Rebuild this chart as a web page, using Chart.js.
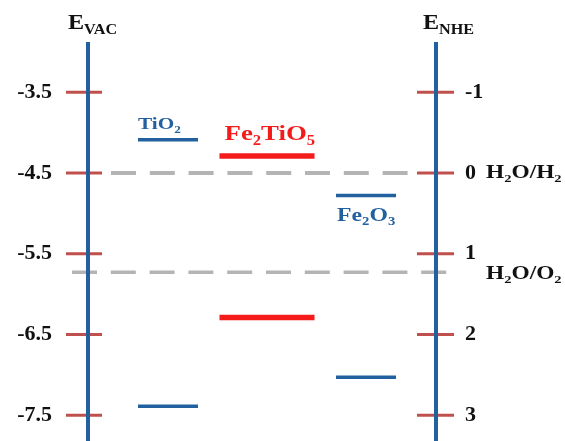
<!DOCTYPE html>
<html>
<head>
<meta charset="utf-8">
<script src="https://cdn.jsdelivr.net/npm/chart.js@4.4.0/dist/chart.umd.min.js"></script>
<style>
html,body{margin:0;padding:0;background:#fff;}
canvas{display:block;}
</style>
</head>
<body>
<canvas id="c" width="565" height="441"></canvas>
<script>
// ---------- data ----------
const materials = ['TiO2', 'Fe2TiO5', 'Fe2O3'];
const conductionBand = [-4.09, -4.29, -4.78];   // eV vs vacuum
const valenceBand = [-7.39, -6.29, -7.03];      // eV vs vacuum
const vacTicks = [-3.5, -4.5, -5.5, -6.5, -7.5];
const vacTickLabels = ['-3.5', '-4.5', '-5.5', '-6.5', '-7.5'];
const nheTicks = [-1, 0, 1, 2, 3];
const nheTickLabels = ['-1', '0', '1', '2', '3'];
const redoxNames = ['H2O/H2', 'H2O/O2'];
const redoxNHE = [0, 1.23];
const NHE_ZERO_VAC = -4.5;   // E_vac = -4.5 - E_NHE
const vacRange = [-7.819, -2.878];

// ---------- style ----------
const BLUE = '#2360a0';
const RED = '#f41b1b';
const TICK_RED = '#c0504d';
const GREY = '#b4b4b4';
const FONT = '"Liberation Serif", "Times New Roman", serif';
const materialColors = [BLUE, RED, BLUE];
const levelWidths = [3.5, 5.5, 3.5];
const halfWidths = [0.303, 0.48, 0.303];
const labelStyle = [
  {size: 17, sx: 1.25, dx: 0, dy: -11},
  {size: 22, sx: 1.22, dx: 5, dy: -16},
  {size: 19, sx: 1.25, dx: 1, dy: 25}
];

const toVac = n => NHE_ZERO_VAC - n;

const datasets = [];
materials.forEach((m, i) => {
  [conductionBand[i], valenceBand[i]].forEach(v => {
    datasets.push({
      label: m,
      data: [{x: i + 1 - halfWidths[i], y: v}, {x: i + 1 + halfWidths[i], y: v}],
      borderColor: materialColors[i],
      borderWidth: levelWidths[i],
      borderCapStyle: 'butt',
      pointRadius: 0,
      clip: false
    });
  });
});
const redoxExtents = [[0.4242, 3.424], [0.0303, 3.848]];
const redoxWidths = [4, 3.5];
redoxNames.forEach((r, i) => {
  const v = toVac(redoxNHE[i]);
  datasets.unshift({
    label: r,
    data: [{x: redoxExtents[i][0], y: v}, {x: redoxExtents[i][1], y: v}],
    borderColor: GREY,
    borderWidth: redoxWidths[i],
    borderDash: [25, 13.8],
    borderCapStyle: 'butt',
    pointRadius: 0,
    clip: false
  });
});

function splitFormula(s) {
  const parts = [];
  s.replace(/(\d+)|([^\d]+)/g, (m, d, t) => { parts.push({t: m, sub: !!d}); });
  return parts;
}
function rich(ctx, x, y, parts, size, color, sx, subRatio) {
  ctx.save();
  ctx.translate(x, y);
  ctx.scale(sx, 1);
  ctx.fillStyle = color;
  ctx.textAlign = 'left';
  ctx.textBaseline = 'alphabetic';
  let cx = 0;
  parts.forEach(p => {
    const fs = p.sub ? size * (subRatio || 0.62) : size;
    ctx.font = 'bold ' + fs + 'px ' + FONT;
    ctx.fillText(p.t, cx, p.sub ? size * 0.22 : 0);
    cx += ctx.measureText(p.t).width;
  });
  ctx.restore();
}

const decor = {
  id: 'decor',
  afterDatasetsDraw(chart) {
    const {ctx, chartArea: a, scales} = chart;
    const x = scales.x, y = scales.y, y2 = scales.y2;
    ctx.save();
    ctx.lineCap = 'butt';
    // tick marks
    ctx.strokeStyle = TICK_RED;
    ctx.lineWidth = 3;
    vacTicks.forEach(v => {
      const py = y.getPixelForValue(v);
      ctx.beginPath(); ctx.moveTo(a.left - 22, py); ctx.lineTo(a.left + 14, py); ctx.stroke();
    });
    nheTicks.forEach(v => {
      const py = y2.getPixelForValue(v);
      ctx.beginPath(); ctx.moveTo(a.right - 19, py); ctx.lineTo(a.right + 18, py); ctx.stroke();
    });
    // energy axes
    ctx.strokeStyle = BLUE;
    ctx.lineWidth = 4;
    [a.left, a.right].forEach(px => {
      ctx.beginPath(); ctx.moveTo(px, a.top); ctx.lineTo(px, a.bottom); ctx.stroke();
    });
    ctx.restore();

    // axis titles
    rich(ctx, a.left - 20, a.top - 13, [{t: 'E'}, {t: 'VAC', sub: true}], 21, '#111', 1.15, 0.67);
    rich(ctx, a.right - 13, a.top - 13, [{t: 'E'}, {t: 'NHE', sub: true}], 21, '#111', 1.15, 0.67);

    // material labels
    materials.forEach((m, i) => {
      const st = labelStyle[i];
      const px = x.getPixelForValue(i + 1 - halfWidths[i]) + st.dx;
      const py = y.getPixelForValue(conductionBand[i]) + st.dy;
      rich(ctx, px, py, splitFormula(m), st.size, materialColors[i], st.sx);
    });

    // redox labels
    const redoxDy = [5, 7];
    redoxNames.forEach((r, i) => {
      const py = y.getPixelForValue(toVac(redoxNHE[i])) + redoxDy[i];
      rich(ctx, a.right + 50, py, splitFormula(r), 18, '#111', 1.3);
    });
  }
};

const tickFont = {family: FONT, size: 22, weight: 'bold'};

new Chart(document.getElementById('c'), {
  type: 'line',
  data: {datasets},
  options: {
    responsive: false,
    animation: false,
    devicePixelRatio: 1,
    layout: {padding: {top: 42, bottom: 0, left: 0, right: 0}},
    plugins: {legend: {display: false}, tooltip: {enabled: false}},
    scales: {
      x: {type: 'linear', display: false, min: 0.1919, max: 3.707},
      y: {
        type: 'linear', position: 'left',
        min: vacRange[0], max: vacRange[1],
        afterBuildTicks: s => { s.ticks = vacTicks.map(v => ({value: v})); },
        afterFit: s => { s.width = 88; s.paddingTop = 0; s.paddingBottom = 0; },
        grid: {display: false, drawTicks: false}, border: {display: false},
        ticks: {
          padding: 36, color: '#111', font: tickFont, autoSkip: false,
          callback: v => vacTickLabels[vacTicks.indexOf(v)]
        }
      },
      y2: {
        type: 'linear', position: 'right', reverse: true,
        min: NHE_ZERO_VAC - vacRange[1], max: NHE_ZERO_VAC - vacRange[0],
        afterBuildTicks: s => { s.ticks = nheTicks.map(v => ({value: v})); },
        afterFit: s => { s.width = 129; s.paddingTop = 0; s.paddingBottom = 0; },
        grid: {display: false, drawTicks: false}, border: {display: false},
        ticks: {
          padding: 29, color: '#111', font: tickFont, autoSkip: false,
          callback: v => nheTickLabels[nheTicks.indexOf(v)]
        }
      }
    }
  },
  plugins: [decor]
});
</script>
</body>
</html>
